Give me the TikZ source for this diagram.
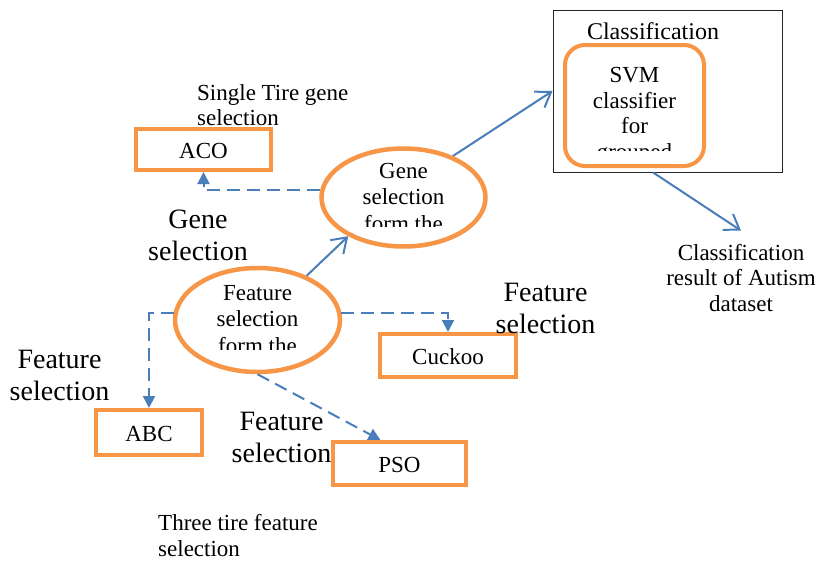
\documentclass[tikz,border=0pt]{standalone}
\usepackage{fontspec}
\setmainfont{Liberation Serif}
\usetikzlibrary{arrows.meta,shapes.geometric}
\definecolor{org}{HTML}{F79646}
\definecolor{blu}{HTML}{4A7EBB}
\begin{document}
\begin{tikzpicture}[x=1pt,y=-1pt,
  txt/.style={font=\fontsize{23}{25.5}\selectfont, align=center, inner sep=0pt},
  etxt/.style={font=\fontsize{23}{26.5}\selectfont, align=center, inner sep=0pt},
  big/.style={font=\fontsize{28}{32}\selectfont, align=center, inner sep=0pt},
  obox/.style={draw=org, line width=4pt, inner sep=0pt},
  oell/.style={ellipse, draw=org, line width=4.5pt, inner sep=0pt},
  solidarr/.style={draw=blu, line width=2pt, -{Straight Barb[length=14pt,width=19pt]}},
  dasharr/.style={draw=blu, line width=2pt, dash pattern=on 13pt off 7pt, -{Triangle[length=12pt,width=12pt]}}
]
\useasboundingbox (0,0) rectangle (817,565);
\fill[white] (0,0) rectangle (817,565);

% classification block
\node[draw=black!85, line width=1pt, inner sep=0pt, minimum width=229pt, minimum height=162pt] (cls) at (667.5,91) {};
\node[txt, font=\fontsize{24}{26}\selectfont, anchor=base] (clst) at (653,39) {Classification};
\node[obox, rounded corners=20pt, minimum width=139pt, minimum height=121pt] (svm) at (634.5,105.5) {};
\begin{scope}
  \clip (565,45) rectangle (704,150.5);
  \node[txt, anchor=base] (svmt) at (634.5,159) {SVM\\classifier\\for\\grouped};
\end{scope}

% ellipses
\node[oell, minimum width=164pt, minimum height=98pt] (gene) at (403.5,197.5) {};
\begin{scope}
  \clip (330,150) rectangle (480,226.5);
  \node[etxt, anchor=base] (genet) at (403.5,231) {Gene\\selection\\form the};
\end{scope}
\node[oell, minimum width=165pt, minimum height=104pt] (feat) at (257.5,320) {};
\begin{scope}
  \clip (180,270) rectangle (335,349);
  \node[etxt, anchor=base] (featt) at (257.5,353) {Feature\\selection\\form the};
\end{scope}

% boxes
\node[obox, minimum width=135pt, minimum height=41pt] (aco) at (203.5,149.5) {};
\node[txt] (acot) at (203.5,151) {ACO};
\node[obox, minimum width=136pt, minimum height=43pt] (cuck) at (448,355.5) {};
\node[txt] (cuckt) at (448,357) {Cuckoo};
\node[obox, minimum width=106pt, minimum height=45pt] (abc) at (149,432.5) {};
\node[txt] (abct) at (149,434) {ABC};
\node[obox, minimum width=133pt, minimum height=43pt] (pso) at (399.5,463.5) {};
\node[txt] (psot) at (399.5,465) {PSO};

% labels
\node[txt, align=left, anchor=base west] (single) at (197,125.5) {Single Tire gene\\selection};
\node[big, anchor=base] (lgene) at (198,260) {Gene\\selection};
\node[big, anchor=base] (lfr) at (545.5,333) {Feature\\selection};
\node[big, anchor=base] (lfl) at (59.5,400) {Feature\\selection};
\node[big, anchor=base] (lfm) at (281.5,462) {Feature\\selection};
\node[txt, anchor=base] (res) at (741,311) {Classification\\result of Autism\\dataset};
\node[txt, align=left, anchor=base west] (three) at (158,556) {Three tire feature\\selection};

% connectors
\draw[solidarr] (feat.42) -- (gene.215);
\draw[solidarr] (gene.40) -- (cls.west);
\draw[solidarr] (cls.-100) -- ([yshift=13pt]res.north);
\draw[dasharr] (gene.175) -| (aco.south);
\draw[dasharr] (feat.5) -| (cuck.north);
\draw[dasharr] (feat.175) -| (abc.north);
\draw[dasharr] (feat.south) -- ([xshift=-19pt]pso.north);
\end{tikzpicture}
\end{document}
